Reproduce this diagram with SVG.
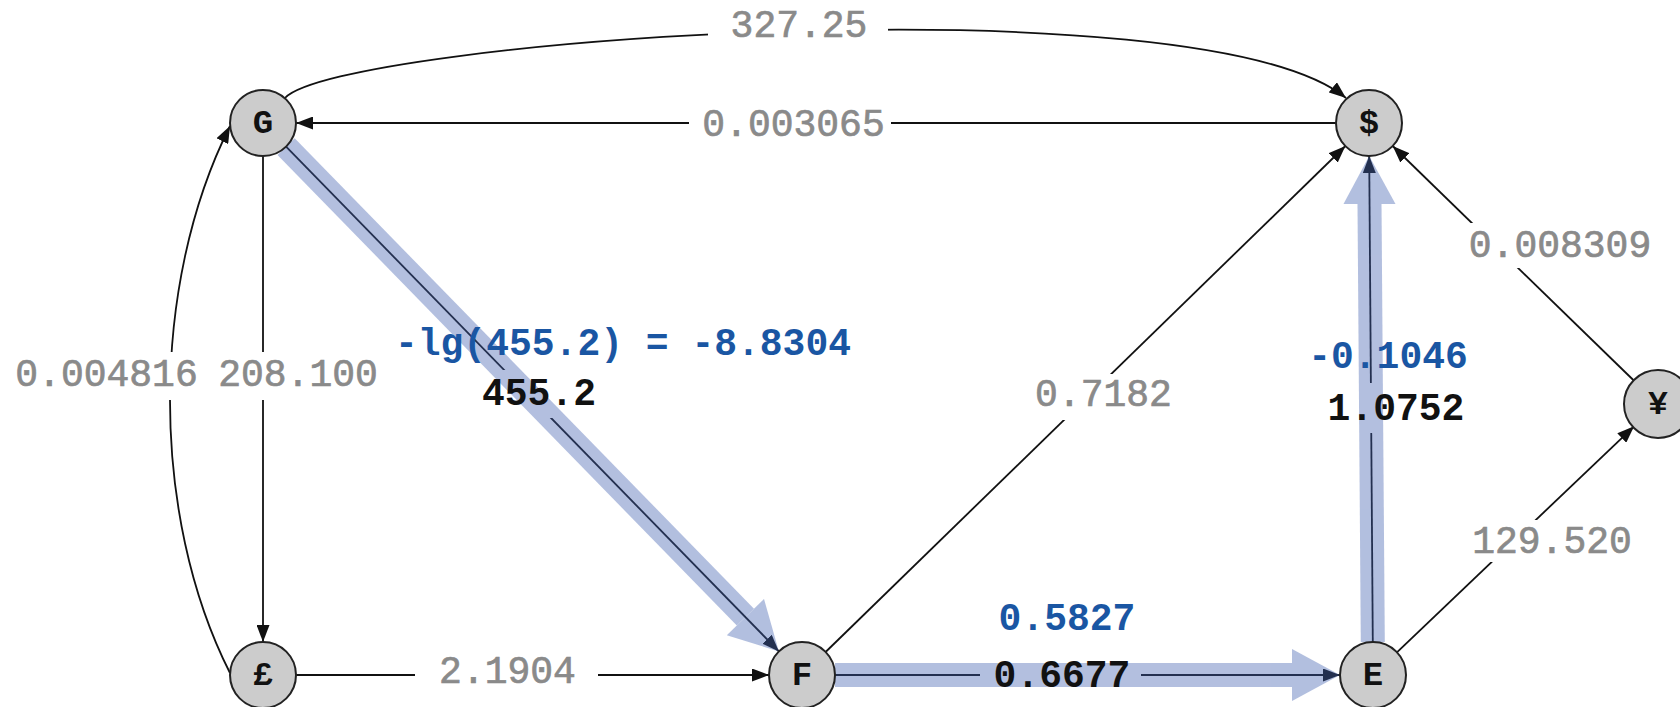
<svg xmlns="http://www.w3.org/2000/svg" width="1680" height="707" viewBox="0 0 1680 707">
<style>
.edge{fill:none;stroke:#111;stroke-width:1.8}
.bg{fill:#fff}
.hl{fill:none;stroke:#4060b0;stroke-width:24}
.hlh{fill:#4060b0}
.node circle{fill:#cccccc;stroke:#222;stroke-width:2}
.node text{font-family:"Liberation Mono",monospace;font-weight:bold;font-size:34px;fill:#111;text-anchor:middle;dominant-baseline:central}
.lbl{font-family:"Liberation Mono",monospace;font-size:38px;text-anchor:middle}
.gray{fill:#8a8a8a;stroke:#8a8a8a;stroke-width:0.7}
.blue{fill:#1a56a3;font-weight:bold}
.blk{fill:#111;font-weight:bold}
</style>
<defs>
<marker id="arr" markerUnits="userSpaceOnUse" markerWidth="17" markerHeight="13" refX="17" refY="6.5" orient="auto">
<path d="M0,0 L17,6.5 L0,13 z" fill="#111"/>
</marker>
</defs>
<rect width="1680" height="707" fill="#fff"/>
<g id="connectors">
<path class="edge" d="M285,98 C340,40 1200,-21 1346,98" marker-end="url(#arr)"/>
<path class="edge" d="M1336,123 L296,123" marker-end="url(#arr)"/>
<path class="edge" d="M263,156 L263,642" marker-end="url(#arr)"/>
<path class="edge" d="M230,673 C150,515 150,285 230,126" marker-end="url(#arr)"/>
<path class="edge" d="M286.1,146.6 L778.9,651.4" marker-end="url(#arr)"/>
<path class="edge" d="M296,675 L769,675" marker-end="url(#arr)"/>
<path class="edge" d="M835,675 L1340,675" marker-end="url(#arr)"/>
<path class="edge" d="M1372.8,642 L1369.2,156" marker-end="url(#arr)"/>
<path class="edge" d="M825.6,652 L1345.4,146" marker-end="url(#arr)"/>
<path class="edge" d="M1396.9,652.3 L1634.1,426.3" marker-end="url(#arr)"/>
<path class="edge" d="M1634.3,381 L1392.7,146" marker-end="url(#arr)"/>
<g id="label-bg">
<rect class="bg" x="708" y="12" width="180" height="36"/>
<rect class="bg" x="689" y="105" width="202" height="40"/>
<rect class="bg" x="1460" y="223" width="200" height="45"/>
<rect class="bg" x="8" y="352" width="196" height="48"/>
<rect class="bg" x="211" y="352" width="175" height="48"/>
<rect class="bg" x="1028" y="374" width="152" height="46"/>
<rect class="bg" x="1462" y="520" width="180" height="42"/>
<rect class="bg" x="415" y="655" width="183" height="40"/>
<rect class="bg" x="980" y="660" width="161" height="32"/>
<rect class="bg" x="478" y="370" width="122" height="48"/>
<rect class="bg" x="1320" y="383" width="150" height="50"/>
</g>
<g id="highlight" opacity="0.4">
<path class="hl" d="M286.1,146.6 L745.4,617.1"/>
<polygon class="hlh" points="778.9,651.4 726.8,635.3 764,598.9"/>
<path class="hl" d="M835,675 L1292,675"/>
<polygon class="hlh" points="1340,675 1292,649 1292,701"/>
<path class="hl" d="M1372.8,642 L1369.5,204"/>
<polygon class="hlh" points="1369.2,156 1343.5,204 1395.5,204"/>
</g>
</g>
<g id="node-G" class="node"><circle cx="263" cy="123" r="33"/><text x="263" y="124">G</text></g>
<g id="node-USD" class="node"><circle cx="1369" cy="123" r="33"/><text x="1369" y="124">$</text></g>
<g id="node-GBP" class="node"><circle cx="263" cy="675" r="33"/><text x="263" y="676">£</text></g>
<g id="node-F" class="node"><circle cx="802" cy="675" r="33"/><text x="802" y="676">F</text></g>
<g id="node-E" class="node"><circle cx="1373" cy="675" r="33"/><text x="1373" y="676">E</text></g>
<g id="node-JPY" class="node"><circle cx="1658" cy="404" r="34"/><text x="1658" y="405">¥</text></g>
<g id="labels">
<text class="lbl gray" x="799" y="37">327.25</text>
<text class="lbl gray" x="793.5" y="136">0.003065</text>
<text class="lbl gray" x="1560" y="257">0.008309</text>
<text class="lbl gray" x="106.5" y="386">0.004816</text>
<text class="lbl gray" x="298" y="386">208.100</text>
<text class="lbl gray" x="1103.5" y="406">0.7182</text>
<text class="lbl gray" x="1552" y="553">129.520</text>
<text class="lbl gray" x="507.5" y="683">2.1904</text>
<text class="lbl blk" x="1062" y="687">0.6677</text>
<text class="lbl blue" x="1067" y="630">0.5827</text>
<text class="lbl blue" x="623" y="355" font-size="39">-lg(455.2) = -8.8304</text>
<text class="lbl blk" x="539" y="405">455.2</text>
<text class="lbl blue" x="1388" y="368">-0.1046</text>
<text class="lbl blk" x="1396" y="420">1.0752</text>
</g>
</svg>
